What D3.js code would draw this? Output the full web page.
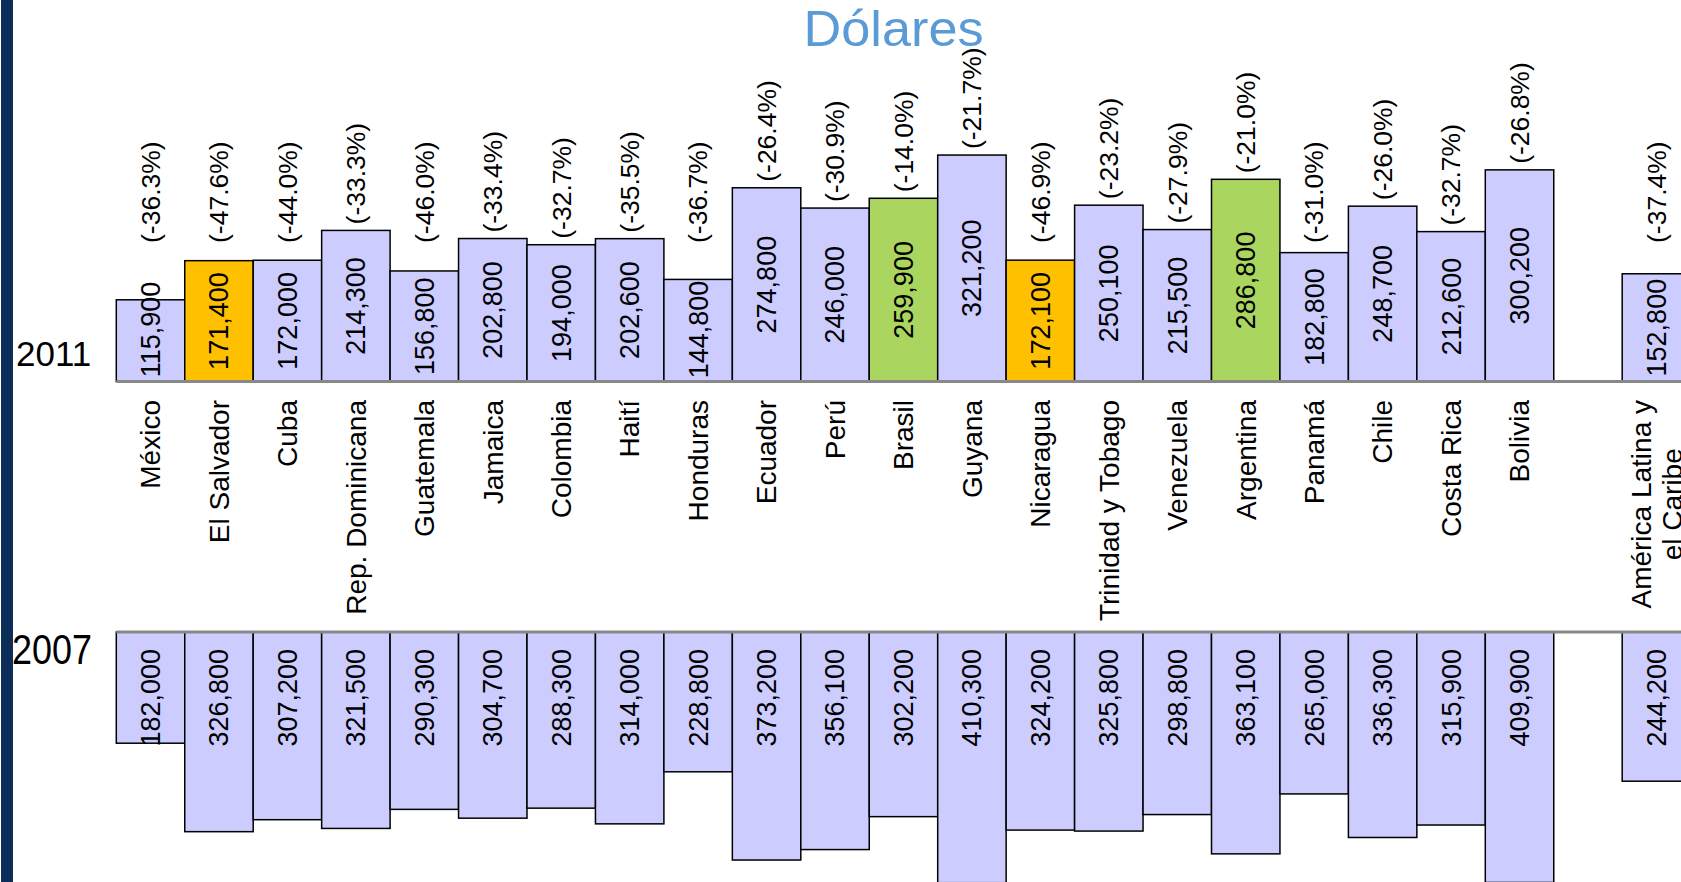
<!DOCTYPE html>
<html>
<head>
<meta charset="utf-8">
<script src="https://cdn.jsdelivr.net/npm/d3@7"></script>
<style>
  html, body { margin: 0; padding: 0; background: #fff; overflow: hidden; }
  text { font-family: "Liberation Sans", Arial, Helvetica, sans-serif; fill: #000; }
</style>
</head>
<body>
<div id="chart"></div>
<script>
const categories = ["México", "El Salvador", "Cuba", "Rep. Dominicana", "Guatemala", "Jamaica",
    "Colombia", "Haití", "Honduras", "Ecuador", "Perú", "Brasil", "Guyana", "Nicaragua",
    "Trinidad y Tobago", "Venezuela", "Argentina", "Panamá", "Chile", "Costa Rica", "Bolivia",
    "América Latina y el Caribe"];
const values2011 = [115900, 171400, 172000, 214300, 156800, 202800, 194000, 202600, 144800,
    274800, 246000, 259900, 321200, 172100, 250100, 215500, 286800, 182800, 248700, 212600,
    300200, 152800];
const values2007 = [182000, 326800, 307200, 321500, 290300, 304700, 288300, 314000, 228800,
    373200, 356100, 302200, 410300, 324200, 325800, 298800, 363100, 265000, 336300, 315900,
    409900, 244200];
const pctChange = [-36.3, -47.6, -44.0, -33.3, -46.0, -33.4, -32.7, -35.5, -36.7, -26.4, -30.9,
    -14.0, -21.7, -46.9, -23.2, -27.9, -21.0, -31.0, -26.0, -32.7, -26.8, -37.4];
const orangeBars = ["El Salvador", "Nicaragua"];
const greenBars = ["Brasil", "Argentina"];
const yearLabels = ["2011", "2007"];
const title = "Dólares";

const width = 1681, height = 882;
const base11 = 381.5, base07 = 632;
const band = 68.45, left = 116.3;

// a blank slot sits between the countries and the regional total
const slots = categories.slice(0, 21).concat(["_gap"], categories.slice(21));
const data = categories.map((c, i) => ({
    name: c, v11: values2011[i], v07: values2007[i], pct: pctChange[i]
}));

const svg = d3.select("#chart").append("svg")
    .attr("width", width)
    .attr("height", height);

const x = d3.scaleBand()
    .domain(slots)
    .range([left, left + band * slots.length])
    .padding(0);

const y11 = d3.scaleLinear()
    .domain([0, 400000])
    .range([base11, base11 - 282]);

const y07 = d3.scaleLinear()
    .domain([0, 400000])
    .range([base07, base07 + 244.4]);

const color = d => orangeBars.includes(d.name) ? "#ffc000"
    : greenBars.includes(d.name) ? "#aad55f" : "#ccccff";
const fmt = d3.format(",");
const cx = d => x(d.name) + x.bandwidth() / 2;

// slide stripe on the left
svg.append("rect")
    .attr("x", 1).attr("y", 0)
    .attr("width", 12).attr("height", height)
    .attr("fill", "#0c2d57");

svg.append("text")
    .attr("x", 893.6).attr("y", 46)
    .attr("text-anchor", "middle")
    .attr("font-size", 50)
    .attr("textLength", 180)
    .attr("lengthAdjust", "spacingAndGlyphs")
    .style("fill", "#5b9bd5")
    .text(title);

// 2011 bars, growing up
svg.append("g")
    .selectAll("rect")
    .data(data)
    .enter().append("rect")
    .attr("x", d => x(d.name))
    .attr("y", d => y11(d.v11))
    .attr("width", x.bandwidth())
    .attr("height", d => base11 - y11(d.v11))
    .attr("fill", color)
    .attr("stroke", "#000")
    .attr("stroke-width", 1.5);

// 2007 bars, hanging down
svg.append("g")
    .selectAll("rect")
    .data(data)
    .enter().append("rect")
    .attr("x", d => x(d.name))
    .attr("y", base07)
    .attr("width", x.bandwidth())
    .attr("height", d => y07(d.v07) - base07)
    .attr("fill", "#ccccff")
    .attr("stroke", "#000")
    .attr("stroke-width", 1.5);

[base11, base07].forEach(b => {
    svg.append("line")
        .attr("x1", left).attr("x2", width)
        .attr("y1", b).attr("y2", b)
        .attr("stroke", "#888")
        .attr("stroke-width", 3);
});

svg.append("text")
    .attr("x", 16).attr("y", 366)
    .attr("font-size", 35)
    .text(yearLabels[0]);

svg.append("text")
    .attr("x", 12).attr("y", 664)
    .attr("font-size", 43)
    .attr("textLength", 80)
    .attr("lengthAdjust", "spacingAndGlyphs")
    .text(yearLabels[1]);

// value labels 2011
svg.append("g")
    .selectAll("text")
    .data(data)
    .enter().append("text")
    .attr("transform", d => {
        const cy = Math.min((y11(d.v11) + base11) / 2, base11 - 52);
        return "translate(" + cx(d) + "," + cy + ") rotate(-90)";
    })
    .attr("text-anchor", "middle")
    .attr("dy", "0.35em")
    .attr("font-size", 27)
    .text(d => fmt(d.v11));

// change labels above 2011 bars
svg.append("g")
    .selectAll("text")
    .data(data)
    .enter().append("text")
    .attr("transform", d => {
        const by = Math.min(y11(d.v11) - 6, 243);
        return "translate(" + cx(d) + "," + by + ") rotate(-90)";
    })
    .attr("text-anchor", "start")
    .attr("dy", "0.35em")
    .attr("font-size", 26.5)
    .text(d => "(" + d.pct.toFixed(1) + "%)");

// value labels 2007
svg.append("g")
    .selectAll("text")
    .data(data)
    .enter().append("text")
    .attr("transform", d => "translate(" + cx(d) + "," + (base07 + 17) + ") rotate(-90)")
    .attr("text-anchor", "end")
    .attr("dy", "0.35em")
    .attr("font-size", 27)
    .text(d => fmt(d.v07));

// category labels, wrapped when too long
const catTop = 400, lineH = 31, maxLen = 232;
svg.append("g")
    .selectAll("text")
    .data(data)
    .enter().append("text")
    .attr("font-size", 28)
    .each(function(d) {
        const t = d3.select(this);
        const words = d.name.split(" ");
        const lines = [];
        let line = [];
        const probe = t.append("tspan");
        words.forEach(w => {
            line.push(w);
            probe.text(line.join(" "));
            if (probe.node().getComputedTextLength() > maxLen && line.length > 1) {
                line.pop();
                lines.push(line.join(" "));
                line = [w];
            }
        });
        lines.push(line.join(" "));
        probe.remove();

        if (lines.length === 1) {
            t.attr("transform", "translate(" + cx(d) + "," + catTop + ") rotate(-90)")
                .attr("text-anchor", "end")
                .attr("dy", "0.35em")
                .text(lines[0]);
        } else {
            let longest = 0;
            lines.forEach(l => {
                const ts = t.append("tspan").text(l);
                longest = Math.max(longest, ts.node().getComputedTextLength());
            });
            t.selectAll("tspan").remove();
            t.attr("transform", "translate(" + cx(d) + "," + (catTop + longest / 2) + ") rotate(-90)")
                .attr("text-anchor", "middle");
            lines.forEach((l, i) => {
                t.append("tspan")
                    .attr("x", 0)
                    .attr("y", (i - (lines.length - 1) / 2) * lineH)
                    .attr("dy", "0.35em")
                    .text(l);
            });
        }
    });
</script>
</body>
</html>
